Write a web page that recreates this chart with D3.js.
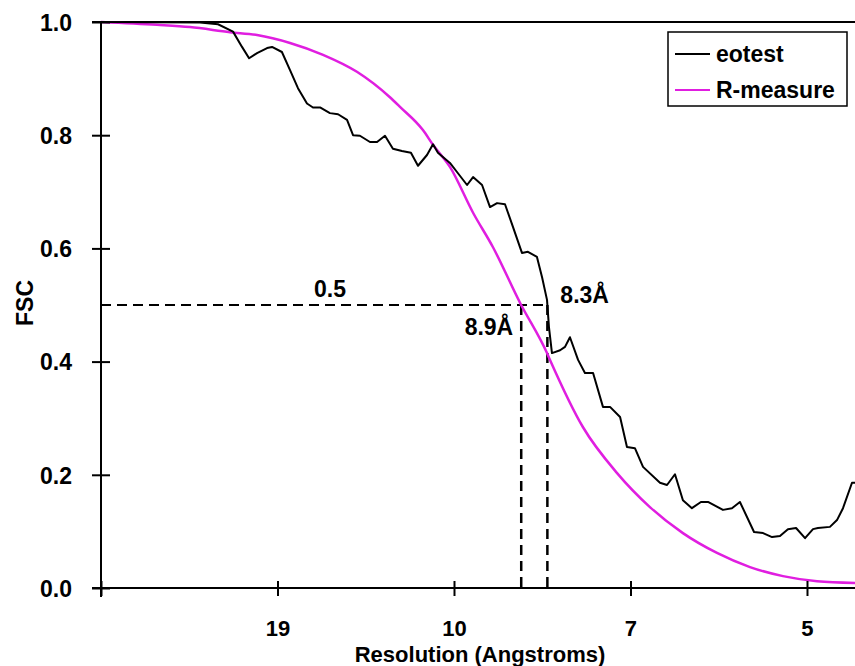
<!DOCTYPE html>
<html>
<head>
<meta charset="utf-8">
<script src="https://cdn.jsdelivr.net/npm/d3@7"></script>
<style>
  html, body { margin: 0; padding: 0; background: #fff; }
  svg { display: block; font-family: Arial, "Liberation Sans", sans-serif; font-weight: bold; }
</style>
</head>
<body>
<svg id="chart" width="855" height="666"></svg>
<script>
// x is measured in tick-slot units (tick i at i); labels give resolution in Å
const xTickValues = [0, 1, 2, 3, 4];
const xTickLabels = ["", "19", "10", "7", "5"];
const yTickValues = [0, 0.2, 0.4, 0.6, 0.8, 1.0];

const eotestX = [0, 0.561, 0.663, 0.748, 0.799, 0.839, 0.884, 0.941, 0.969, 1.025, 1.071, 1.116, 1.167, 1.201, 1.241, 1.297, 1.343, 1.394, 1.428, 1.467, 1.524, 1.564, 1.609, 1.654, 1.705, 1.756, 1.796, 1.847, 1.881, 1.909, 1.977, 2.017, 2.074, 2.108, 2.159, 2.204, 2.244, 2.289, 2.334, 2.385, 2.419, 2.470, 2.499, 2.527, 2.538, 2.555, 2.601, 2.629, 2.657, 2.703, 2.742, 2.788, 2.844, 2.884, 2.941, 2.980, 3.025, 3.071, 3.167, 3.207, 3.252, 3.297, 3.348, 3.399, 3.439, 3.524, 3.575, 3.620, 3.700, 3.751, 3.802, 3.847, 3.892, 3.938, 3.989, 4.034, 4.062, 4.130, 4.170, 4.204, 4.255, 4.272];
const eotestY = [1.0, 0.999, 0.996, 0.983, 0.956, 0.936, 0.945, 0.954, 0.956, 0.947, 0.915, 0.883, 0.856, 0.849, 0.849, 0.839, 0.837, 0.827, 0.800, 0.799, 0.788, 0.788, 0.799, 0.776, 0.772, 0.769, 0.746, 0.765, 0.784, 0.769, 0.751, 0.735, 0.712, 0.726, 0.712, 0.673, 0.680, 0.678, 0.638, 0.592, 0.594, 0.585, 0.549, 0.509, 0.461, 0.415, 0.420, 0.426, 0.443, 0.403, 0.380, 0.380, 0.320, 0.320, 0.302, 0.249, 0.247, 0.214, 0.186, 0.182, 0.201, 0.155, 0.141, 0.152, 0.152, 0.138, 0.141, 0.152, 0.099, 0.097, 0.090, 0.092, 0.104, 0.106, 0.088, 0.104, 0.106, 0.108, 0.120, 0.141, 0.186, 0.186];

const rmeasX = [0, 0.317, 0.504, 0.731, 0.884, 1.071, 1.258, 1.450, 1.637, 1.694, 1.824, 1.881, 1.977, 2.108, 2.221, 2.374, 2.527, 2.544, 2.731, 2.924, 3.110, 3.297, 3.490, 3.677, 3.864, 4.057, 4.272];
const rmeasY = [1.0, 0.995, 0.991, 0.982, 0.977, 0.963, 0.942, 0.912, 0.867, 0.850, 0.809, 0.783, 0.744, 0.663, 0.602, 0.504, 0.415, 0.403, 0.284, 0.203, 0.143, 0.097, 0.062, 0.037, 0.021, 0.012, 0.009];

const seriesNames = ["eotest", "R-measure"];
const seriesColors = ["#000000", "#e01ee0"];
const threshold = 0.5;
const thresholdLabel = "0.5";
const crossLabels = ["8.3Å", "8.9Å"];

const svg = d3.select("#chart");
const x = d3.scaleLinear().domain([0, 4.272]).range([101, 855]);
const y = d3.scaleLinear().domain([0, 1]).range([588, 22]);

const eo = eotestX.map((v, i) => [v, eotestY[i]]);
const rm = rmeasX.map((v, i) => [v, rmeasY[i]]);

function crossing(pts, t) {
  for (let i = 1; i < pts.length; i++) {
    const [x0, y0] = pts[i - 1], [x1, y1] = pts[i];
    if (y0 >= t && y1 < t) return x0 + (y0 - t) / (y0 - y1) * (x1 - x0);
  }
  return null;
}
const cEo = crossing(eo, threshold);
const cRm = crossing(rm, threshold);

// frame top line
svg.append("line").attr("x1", 92).attr("x2", 855).attr("y1", y(1)).attr("y2", y(1))
  .attr("stroke", "#000").attr("stroke-width", 2);

// dashed reference lines
const dash = "10,6";
svg.append("line").attr("x1", x(0)).attr("x2", x(cEo)).attr("y1", y(threshold)).attr("y2", y(threshold))
  .attr("stroke", "#000").attr("stroke-width", 2).attr("stroke-dasharray", dash);
[cRm, cEo].forEach(c => {
  svg.append("line").attr("x1", x(c)).attr("x2", x(c)).attr("y1", y(threshold)).attr("y2", y(0))
    .attr("stroke", "#000").attr("stroke-width", 2.5).attr("stroke-dasharray", dash);
});

// curves
svg.append("path").datum(rm).attr("fill", "none").attr("stroke", seriesColors[1]).attr("stroke-width", 2.5)
  .attr("d", d3.line().x(d => x(d[0])).y(d => y(d[1])).curve(d3.curveMonotoneX));
svg.append("path").datum(eo).attr("fill", "none").attr("stroke", seriesColors[0]).attr("stroke-width", 2)
  .attr("stroke-linejoin", "round").attr("d", d3.line().x(d => x(d[0])).y(d => y(d[1])));

// x axis
const xAxis = d3.axisBottom(x).tickValues(xTickValues).tickFormat((d, i) => xTickLabels[i]).tickSizeOuter(0);
const gx = svg.append("g").attr("transform", `translate(0,${y(0)})`).call(xAxis);
gx.select(".domain").attr("d", `M92,0H855`).attr("stroke-width", 2);
gx.selectAll(".tick line").attr("y1", -7).attr("y2", 8).attr("stroke-width", 2);
gx.selectAll(".tick text").attr("y", 48).attr("dy", 0).attr("font-size", 22)
  .attr("font-family", "Arial, 'Liberation Sans', sans-serif").attr("font-weight", "bold").attr("fill", "#000");

// y axis
const yAxis = d3.axisLeft(y).tickValues(yTickValues).tickFormat(d3.format(".1f")).tickSizeOuter(0);
const gy = svg.append("g").attr("transform", `translate(${x(0)},0)`).call(yAxis);
gy.select(".domain").attr("d", `M0,${y(1)}V${y(0) + 9}`).attr("stroke-width", 2);
gy.selectAll(".tick line").attr("x1", -9).attr("x2", 9).attr("stroke-width", 2);
gy.selectAll(".tick text").attr("x", -29).attr("dy", "0.36em").attr("font-size", 23)
  .attr("font-family", "Arial, 'Liberation Sans', sans-serif").attr("font-weight", "bold").attr("fill", "#000");

// axis titles
svg.append("text").attr("x", 480).attr("y", 662).attr("text-anchor", "middle").attr("font-size", 22)
  .text("Resolution (Angstroms)");
svg.append("text").attr("transform", `translate(33,303) rotate(-90)`).attr("text-anchor", "middle")
  .attr("font-size", 23).text("FSC");

// annotations
svg.append("text").attr("x", 330).attr("y", 297).attr("text-anchor", "middle").attr("font-size", 23).text(thresholdLabel);
svg.append("text").attr("x", x(cEo) + 13).attr("y", 303).attr("font-size", 23).text(crossLabels[0]);
svg.append("text").attr("x", x(cRm) - 8).attr("y", 335).attr("text-anchor", "end").attr("font-size", 23).text(crossLabels[1]);

// legend
const lg = svg.append("g");
lg.append("rect").attr("x", 668).attr("y", 32).attr("width", 179).attr("height", 74)
  .attr("fill", "#fff").attr("stroke", "#000").attr("stroke-width", 1.5);
seriesNames.forEach((n, i) => {
  const yy = 54 + i * 36;
  lg.append("line").attr("x1", 675).attr("x2", 710).attr("y1", yy).attr("y2", yy)
    .attr("stroke", seriesColors[i]).attr("stroke-width", 2);
  lg.append("text").attr("x", 716).attr("y", yy + 8).attr("font-size", 23).text(n);
});
</script>
</body>
</html>
